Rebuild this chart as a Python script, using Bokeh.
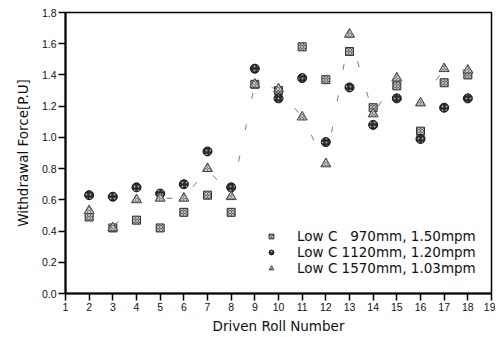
from bokeh.plotting import figure
from bokeh.models import Range1d, FixedTicker, Legend, LegendItem, CustomJSTickFormatter
from bokeh.embed import file_html
from bokeh.resources import INLINE

roll = [2, 3, 4, 5, 6, 7, 8, 9, 10, 11, 12, 13, 14, 15, 16, 17, 18]
s970 = [0.49, 0.42, 0.47, 0.42, 0.52, 0.63, 0.52, 1.34, 1.30, 1.58, 1.37, 1.55, 1.19, 1.33, 1.04, 1.35, 1.40]
s1120 = [0.63, 0.62, 0.68, 0.64, 0.70, 0.91, 0.68, 1.44, 1.25, 1.38, 0.97, 1.32, 1.08, 1.25, 0.99, 1.19, 1.25]
s1570 = [0.53, 0.42, 0.60, 0.61, 0.61, 0.80, 0.62, 1.34, 1.31, 1.13, 0.83, 1.66, 1.15, 1.38, 1.22, 1.44, 1.43]
labels = ["Low C   970mm, 1.50mpm", "Low C 1120mm, 1.20mpm", "Low C 1570mm, 1.03mpm"]
x_ticks = list(range(1, 20))
y_ticks = [0.0, 0.2, 0.4, 0.6, 0.8, 1.0, 1.2, 1.4, 1.6, 1.8]

TICK_FONT = "Liberation Sans"
LABEL_FONT = "DejaVu Sans"

p = figure(width=495, height=336, output_backend="svg", toolbar_location=None,
           x_range=Range1d(1, 19), y_range=Range1d(0, 1.8))
p.min_border_left = 65
p.min_border_right = 4
p.min_border_top = 12
p.min_border_bottom = 42
p.xgrid.visible = False
p.ygrid.visible = False
p.outline_line_color = "black"
p.outline_line_width = 1.5
p.background_fill_color = "white"
p.border_fill_color = "white"

p.xaxis.ticker = FixedTicker(ticks=x_ticks)
p.yaxis.ticker = FixedTicker(ticks=y_ticks)
p.yaxis.formatter = CustomJSTickFormatter(code="return tick.toFixed(1);")

for ax in (p.xaxis[0], p.yaxis[0]):
    ax.axis_line_width = 2
    ax.axis_line_color = "black"
    ax.major_tick_line_color = "black"
    ax.major_tick_line_width = 1.5
    ax.major_tick_in = 0
    ax.major_tick_out = 7
    ax.minor_tick_line_color = None
    ax.major_label_text_font = TICK_FONT
    ax.major_label_text_font_size = "10.5px"
    ax.major_label_text_color = "#111111"
    ax.axis_label_text_font = LABEL_FONT
    ax.axis_label_text_font_size = "13.5px"
    ax.axis_label_text_font_style = "normal"
    ax.axis_label_text_color = "#111111"
    ax.major_label_standoff = 2

p.xaxis.axis_label_standoff = 4
p.yaxis.axis_label_standoff = 8

p.xaxis.axis_label = "Driven Roll Number"
p.yaxis.axis_label = "Withdrawal Force[P.U]"

# faint dashed connecting line through triangle series
p.line(roll, s1570, line_color="#222222", line_width=1, line_dash="6 26", line_alpha=0.6)

r1 = p.scatter(roll, s970, marker="square", size=8, fill_color="#6a6a6a",
               line_color="#333333", line_width=1, hatch_pattern="x", hatch_color="#cccccc",
               hatch_scale=3, hatch_weight=0.8)
r2 = p.scatter(roll, s1120, marker="circle", size=9, fill_color="#2a2a2a",
               line_color="#111111", line_width=1, hatch_pattern="dot", hatch_color="#aaaaaa",
               hatch_scale=4)
r3 = p.scatter(roll, s1570, marker="triangle", size=10, fill_color="#808080",
               line_color="#444444", line_width=1, hatch_pattern="x", hatch_color="#d8d8d8",
               hatch_scale=3, hatch_weight=0.8)

legend = Legend(items=[LegendItem(label=labels[0], renderers=[r1]),
                       LegendItem(label=labels[1], renderers=[r2]),
                       LegendItem(label=labels[2], renderers=[r3])],
                location=(200, 17))
legend.border_line_color = None
legend.background_fill_alpha = 0
legend.label_text_font = LABEL_FONT
legend.label_text_font_size = "13.5px"
legend.label_text_color = "#111111"
legend.glyph_width = 12
legend.glyph_height = 14
legend.label_height = 14
legend.label_standoff = 20
legend.spacing = 0
legend.padding = 0
legend.margin = 0
p.add_layout(legend, "center")

open("out.html", "w").write(file_html(p, INLINE))
